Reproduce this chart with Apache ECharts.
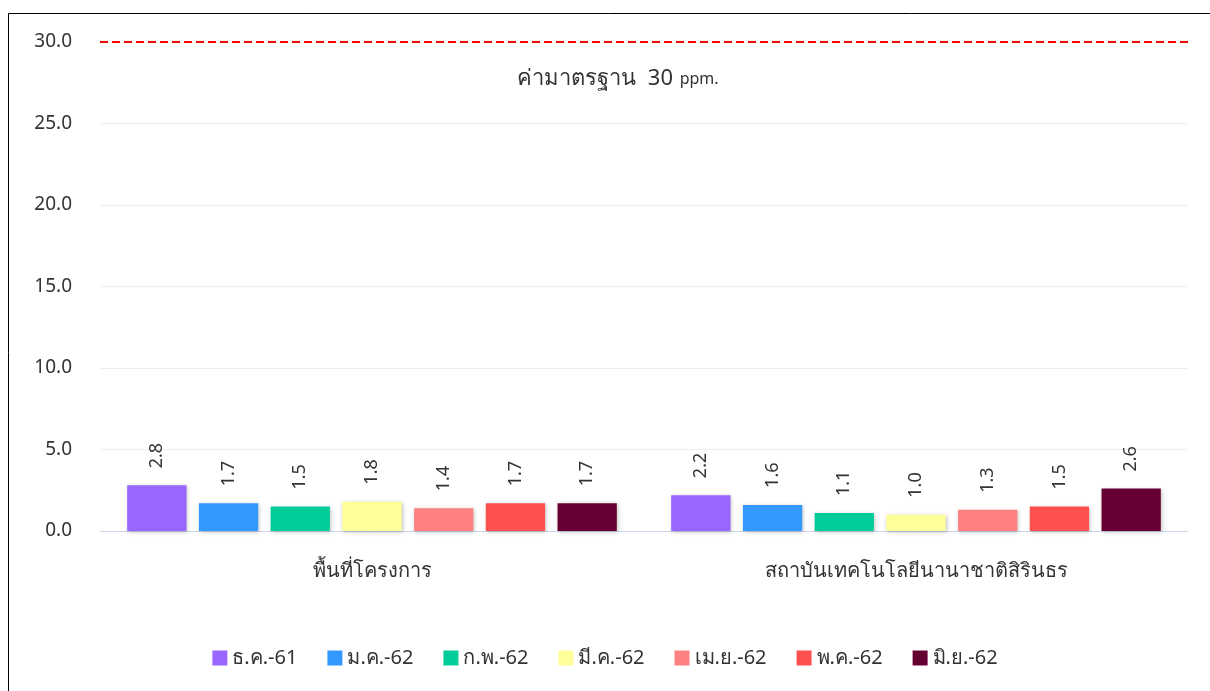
<!DOCTYPE html>
<html lang="th">
<head>
    <meta charset="UTF-8">
    <title></title>
    <script type="text/javascript" src="https://cdn.jsdelivr.net/npm/echarts@6/dist/echarts.min.js"></script>
    <style>
        html, body {margin: 0; padding: 0; background: #fff;}
    </style>
</head>
<body>
<div id="chart" style="width: 1210px;height: 691px"></div>
</body>
</html>
<script type="text/javascript">
    // ข้อมูล
    var categories = ['พื้นที่โครงการ', 'สถาบันเทคโนโลยีนานาชาติสิรินธร'];
    var months = ['ธ.ค.-61', 'ม.ค.-62', 'ก.พ.-62', 'มี.ค.-62', 'เม.ย.-62', 'พ.ค.-62', 'มิ.ย.-62'];
    var dec61 = [2.8, 2.2];
    var jan62 = [1.7, 1.6];
    var feb62 = [1.5, 1.1];
    var mar62 = [1.8, 1.0];
    var apr62 = [1.4, 1.3];
    var may62 = [1.7, 1.5];
    var jun62 = [1.7, 2.6];
    var standard = 30;
    var colors = ['#9966ff', '#3399ff', '#00cc99', '#ffff99', '#ff8080', '#ff5050', '#660033'];

    var font = 'Noto Sans, sans-serif';
    var values = [dec61, jan62, feb62, mar62, apr62, may62, jun62];

    var series = months.map(function (m, i) {
        var s = {
            name: m,
            type: 'bar',
            data: values[i],
            barGap: '21%',
            barCategoryGap: '10%',
            itemStyle: {
                color: colors[i],
                shadowBlur: 4,
                shadowColor: 'rgba(0,0,0,0.25)',
                shadowOffsetX: 1,
                shadowOffsetY: 1
            },
            label: {
                show: true,
                position: 'top',
                rotate: 90,
                align: 'left',
                verticalAlign: 'middle',
                distance: 17,
                fontFamily: font,
                fontSize: 18,
                color: '#333',
                formatter: function (p) { return p.value.toFixed(1); }
            }
        };
        if (i === 0) {
            s.markLine = {
                silent: true,
                symbol: 'none',
                lineStyle: {color: '#ff0000', type: [8, 4], width: 2},
                label: {
                    position: 'insideMiddleBottom',
                    distance: 26,
                    offset: [-26, 0],
                    formatter: '{a|ค่ามาตรฐาน  ' + standard + '}  {b|ppm.}',
                    rich: {
                        a: {fontFamily: font, fontSize: 22, color: '#333'},
                        b: {fontFamily: font, fontSize: 16, color: '#333'}
                    }
                },
                data: [{yAxis: standard}]
            };
        }
        return s;
    });

    var myChart = echarts.init(document.getElementById('chart'));
    var option = {
        animation: false,
        graphic: [{
            type: 'rect',
            shape: {x: 8.5, y: 13.5, width: 1300, height: 800},
            style: {fill: 'none', stroke: '#000', lineWidth: 1}
        }],
        legend: {
            bottom: 18,
            left: 'center',
            icon: 'rect',
            itemWidth: 15,
            itemHeight: 15,
            itemGap: 30,
            textStyle: {fontFamily: font, fontSize: 20, color: '#333'},
            data: months
        },
        grid: {left: 100, right: 22, top: 42, bottom: 160, containLabel: false},
        xAxis: {
            type: 'category',
            data: categories,
            axisLine: {lineStyle: {color: '#ccd6eb'}},
            axisTick: {show: false},
            axisLabel: {fontFamily: font, fontSize: 20, color: '#333', margin: 30}
        },
        yAxis: {
            type: 'value',
            min: 0,
            max: 30,
            interval: 5,
            axisLine: {show: false},
            axisTick: {show: false},
            splitLine: {lineStyle: {color: '#eeeeee'}},
            axisLabel: {
                fontFamily: font, fontSize: 19, color: '#333', margin: 28,
                formatter: function (v) { return v.toFixed(1); }
            }
        },
        series: series
    };
    myChart.setOption(option);
</script>
